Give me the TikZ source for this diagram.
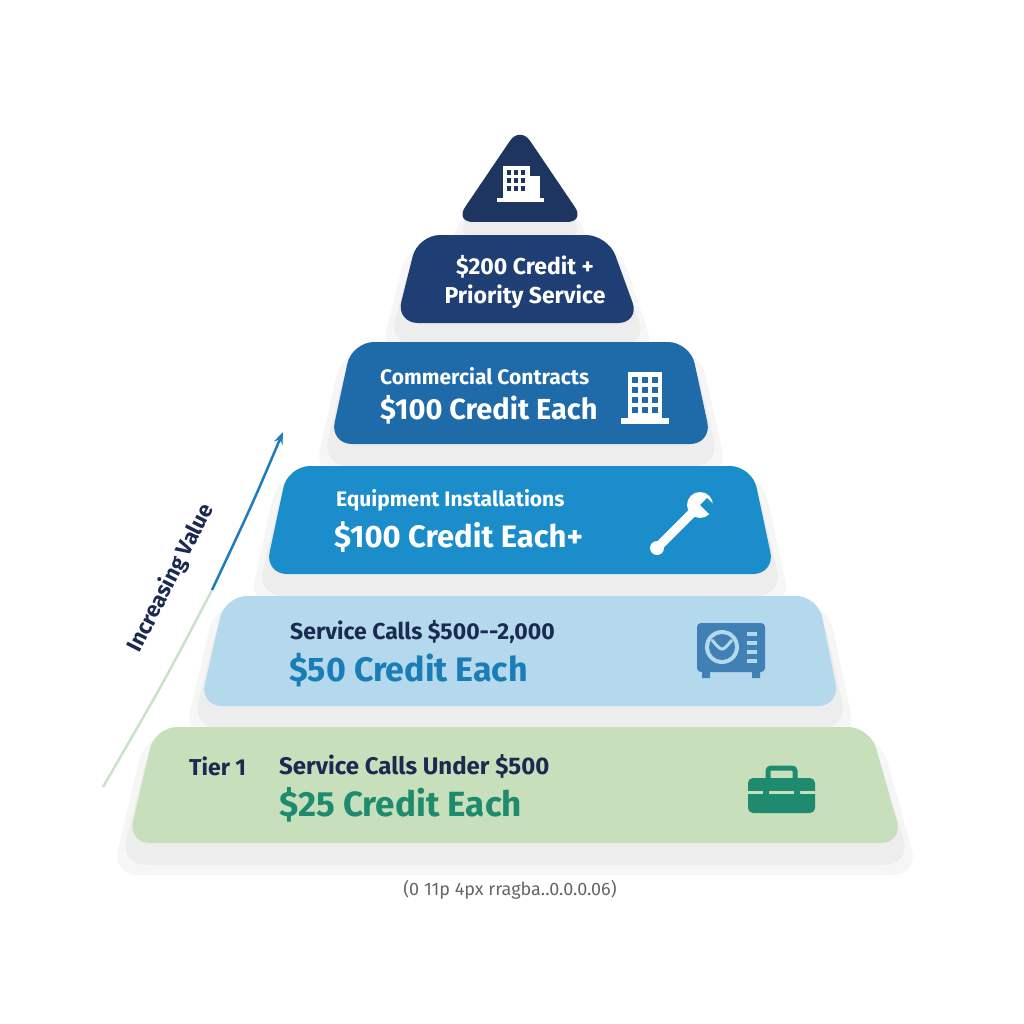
\documentclass[tikz,border=0pt]{standalone}
\usepackage{fontspec}
\setmainfont{Fira Sans}
\usepackage{tikz}
\usetikzlibrary{positioning,arrows.meta,shadings}

\definecolor{navytop}{HTML}{1E3560}
\definecolor{navy}{HTML}{1F3F74}
\definecolor{midblue}{HTML}{1F6AA8}
\definecolor{skyblue}{HTML}{1B8DCB}
\definecolor{paleblue}{HTML}{B4D8EC}
\definecolor{palegreen}{HTML}{C8DFBB}
\definecolor{inkblue}{HTML}{1A2A50}
\definecolor{tealgreen}{HTML}{1E8A6E}
\definecolor{textblue}{HTML}{1B7DB8}

\begin{document}
\begin{tikzpicture}[x=1pt, y=-1pt,
  tier/.style={rounded corners=22pt},
  shade/.style={fill=black, opacity=0.035, rounded corners=26pt},
  label/.style={font=\bfseries, inner sep=0pt, anchor=west},
  icon/.style={line width=3pt, line cap=round, line join=round}]
\useasboundingbox[fill=white] (0,0) rectangle (1024,1024);

% shadows
\foreach \a/\b/\c/\d/\e/\f in {130/218/520/520/460/580, 235/323/418/608/396/640,
  342/444/352/690/330/712, 466/574/288/752/265/775, 596/706/225/818/200/840,
  727/843/155/870/128/903}
{
  \fill[shade] (\c-4,\a+14) -- (\d+4,\a+14) -- (\f+8,\b+22) -- (\e-8,\b+22) -- cycle;
  \fill[shade] (\c-10,\a+8) -- (\d+10,\a+8) -- (\f+16,\b+32) -- (\e-16,\b+32) -- cycle;
}

% tiers
\fill[navytop, rounded corners=18pt] (520,126) -- (585,222) -- (455,222) -- cycle;
\fill[tier, navy] (418,235) -- (608,235) -- (640,323) -- (396,323) -- cycle;
\fill[tier, midblue] (352,342) -- (690,342) -- (712,444) -- (330,444) -- cycle;
\fill[tier, skyblue] (288,466) -- (752,466) -- (775,574) -- (265,574) -- cycle;
\fill[tier, paleblue] (225,596) -- (818,596) -- (840,706) -- (200,706) -- cycle;
\fill[tier, palegreen] (155,727) -- (870,727) -- (903,843) -- (128,843) -- cycle;

% texts
\node[font=\bfseries\fontsize{23}{29}\selectfont, white, align=center] (t5) at (525,282) {\$200 Credit +\\Priority Service};
\node[label, white, font=\bfseries\fontsize{21}{24}\selectfont] (t4a) at (380,376) {Commercial Contracts};
\node[label, white, font=\bfseries\fontsize{29}{32}\selectfont] (t4b) at (380,410) {\$100 Credit Each};
\node[label, white, font=\bfseries\fontsize{21}{24}\selectfont] (t3a) at (336,500) {Equipment Installations};
\node[label, white, font=\bfseries\fontsize{31}{34}\selectfont] (t3b) at (334,537) {\$100 Credit Each+};
\node[label, inkblue, font=\bfseries\fontsize{23}{24}\selectfont] (t2a) at (290,632) {Service Calls \$500-{}-2,000};
\node[label, textblue, font=\bfseries\fontsize{34}{36}\selectfont] (t2b) at (289,670) {\$50 Credit Each};
\node[label, inkblue, font=\bfseries\fontsize{23}{26}\selectfont] (tier) at (189,766) {Tier 1};
\node[label, inkblue, font=\bfseries\fontsize{24}{26}\selectfont] (t1a) at (279,766) {Service Calls Under \$500};
\node[label, tealgreen, font=\bfseries\fontsize{35}{36}\selectfont] (t1b) at (279,805) {\$25 Credit Each};
\node[gray!80!black, font=\fontsize{18}{20}\selectfont] (note) at (510,890) {(0 11p 4px rragba..0.0.0.06)};

% icons
\fill[white] (503,166) rectangle (530,200);
\fill[white] (530,176) rectangle (540,200);
\fill[white] (497,198) rectangle (544,202);
\foreach \i in {0,1,2} \foreach \j in {0,1,2}
  \fill[navytop] (507+\i*7,170+\j*8) rectangle (511+\i*7,175+\j*8);
\fill[white] (628,372) rectangle (662,420);
\fill[white] (621,418) rectangle (669,424);
\foreach \i in {0,1,2} \foreach \j in {0,1,2,3}
  \fill[midblue] (632+\i*10,377+\j*10) rectangle (638+\i*10,383+\j*10);
\draw[white, line width=9pt, line cap=round] (660,545) -- (695,510);
\fill[white] (700,505) circle (13pt);
\fill[skyblue] (700,505) -- ++(45:16) -- ++(-45:10) -- ++(-135:16) -- cycle;
\fill[white] (657,548) circle (7pt);
\fill[midblue!85, rounded corners=4pt] (697,623) rectangle (765,672);
\fill[midblue!85] (702,670) rectangle (710,678) (752,670) rectangle (760,678);
\fill[paleblue] (722,647) circle (17pt);
\fill[midblue!85] (722,647) circle (13pt);
\draw[paleblue, line width=3pt] (712,640) .. controls (722,652) .. (732,640);
\foreach \k in {0,1,2,3} \fill[paleblue] (747,632+\k*9) rectangle (757,636+\k*9);
\fill[tealgreen, rounded corners=5pt] (748,778) rectangle (815,813);
\draw[tealgreen, line width=5pt, rounded corners=3pt] (768,779) -- (768,768) -- (795,768) -- (795,779);
\fill[palegreen] (748,791) rectangle (815,794);
\fill[tealgreen] (763,787) rectangle (769,798) (794,787) rectangle (800,798);

% arrow
\coordinate (lo) at (103,787);
\coordinate (hi) at (283,432);
\draw[line width=2.5pt, green!30!gray!40, opacity=0.8] (lo) .. controls (165,680) .. (212,590);
\draw[line width=2.5pt, skyblue!80!navy, -{Stealth[length=12pt]}] (212,590) .. controls (252,505) .. (hi);
\node[font=\bfseries\fontsize{22}{24}\selectfont, inkblue, rotate=63] (value) at (171,578) {Increasing Value};
\end{tikzpicture}
\end{document}
